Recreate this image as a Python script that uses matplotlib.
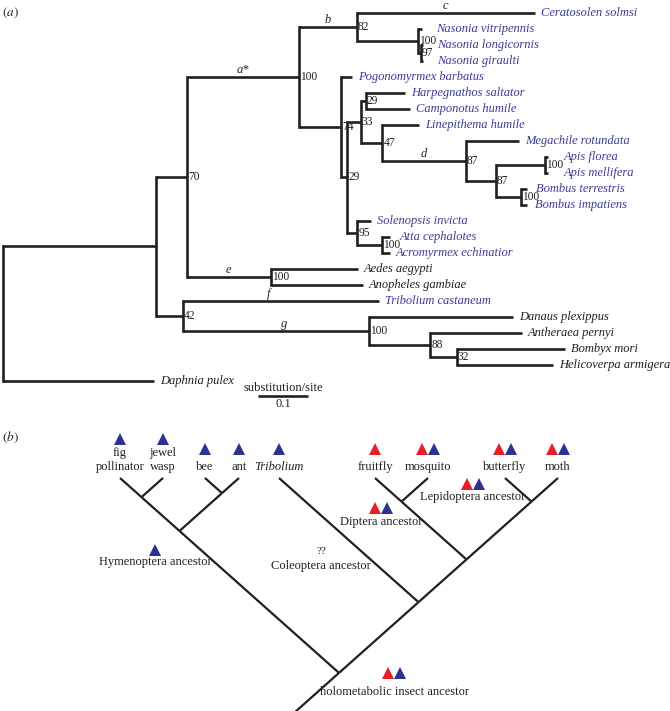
import matplotlib.pyplot as plt

plt.rcParams['font.family'] = ['Liberation Serif', 'DejaVu Serif']
plt.rcParams['mathtext.fontset'] = 'stix'

# ---------------- panel (a): maximum-likelihood tree ----------------
# leaf order, top to bottom
taxa = [
    "Ceratosolen solmsi", "Nasonia vitripennis", "Nasonia longicornis",
    "Nasonia giraulti", "Pogonomyrmex barbatus", "Harpegnathos saltator",
    "Camponotus humile", "Linepithema humile", "Megachile rotundata",
    "Apis florea", "Apis mellifera", "Bombus terrestris", "Bombus impatiens",
    "Solenopsis invicta", "Atta cephalotes", "Acromyrmex echinatior",
    "Aedes aegypti", "Anopheles gambiae", "Tribolium castaneum",
    "Danaus plexippus", "Antheraea pernyi", "Bombyx mori",
    "Helicoverpa armigera", "Daphnia pulex",
]
blue_taxa = taxa[:16] + ["Tribolium castaneum"]

# (parent, child, branch length in substitutions/site)
edges = [
    ("root", "ins", 0.306), ("root", "Daphnia pulex", 0.302),
    ("ins", "hym_dip", 0.062), ("ins", "col_lep", 0.054),
    ("hym_dip", "hym", 0.224), ("hym_dip", "dip", 0.169),
    ("hym", "chalc", 0.116), ("hym", "acul", 0.084),
    ("chalc", "Ceratosolen solmsi", 0.356), ("chalc", "nas", 0.123),
    ("nas", "Nasonia vitripennis", 0.007), ("nas", "nas2", 0.005),
    ("nas2", "Nasonia longicornis", 0.004), ("nas2", "Nasonia giraulti", 0.004),
    ("acul", "Pogonomyrmex barbatus", 0.023), ("acul", "acul2", 0.013),
    ("acul2", "acul3", 0.027), ("acul2", "myrm", 0.020),
    ("acul3", "form", 0.010), ("acul3", "bees0", 0.043),
    ("form", "Harpegnathos saltator", 0.078), ("form", "Camponotus humile", 0.089),
    ("bees0", "Linepithema humile", 0.073), ("bees0", "bees", 0.167),
    ("bees", "Megachile rotundata", 0.107), ("bees", "corb", 0.060),
    ("corb", "apis", 0.098), ("corb", "bomb", 0.050),
    ("apis", "Apis florea", 0.006), ("apis", "Apis mellifera", 0.006),
    ("bomb", "Bombus terrestris", 0.013), ("bomb", "Bombus impatiens", 0.013),
    ("myrm", "Solenopsis invicta", 0.028), ("myrm", "attini", 0.050),
    ("attini", "Atta cephalotes", 0.015), ("attini", "Acromyrmex echinatior", 0.015),
    ("dip", "Aedes aegypti", 0.173), ("dip", "Anopheles gambiae", 0.183),
    ("col_lep", "Tribolium castaneum", 0.393), ("col_lep", "lep", 0.373),
    ("lep", "Danaus plexippus", 0.287), ("lep", "lep2", 0.122),
    ("lep2", "Antheraea pernyi", 0.183), ("lep2", "lep3", 0.053),
    ("lep3", "Bombyx mori", 0.216), ("lep3", "Helicoverpa armigera", 0.192),
]

support = {
    "hym_dip": 70, "hym": 100, "chalc": 82, "nas": 100, "nas2": 97,
    "acul": 74, "acul2": 29, "acul3": 33, "form": 29, "bees0": 47,
    "bees": 87, "corb": 87, "apis": 100, "bomb": 100, "myrm": 95,
    "attini": 100, "dip": 100, "col_lep": 42, "lep": 100, "lep2": 88,
    "lep3": 32,
}

# branch letters, keyed by the child end of the branch
branch_tags = {
    "hym": "a*", "chalc": "b", "Ceratosolen solmsi": "c", "bees": "d",
    "dip": "e", "Tribolium castaneum": "f", "lep": "g",
}

scale_len = 0.1

# ---------------- panel (b): schematic cladogram ----------------
clado_tips = ["fig\npollinator", "jewel\nwasp", "bee", "ant", "Tribolium",
              "fruitfly", "mosquito", "butterfly", "moth"]
clado_tip_x = [120, 163, 205, 239, 279, 375, 428, 505, 558]
tip_red = [0, 0, 0, 0, 0, 1, 1, 1, 1]
tip_blue = [1, 1, 1, 1, 1, 0, 1, 1, 1]
clado_topology = (((0, 1), (2, 3)), (4, ((5, 6), (7, 8))))

anc_names = ["Hymenoptera ancestor", "Coleoptera ancestor", "Diptera ancestor",
             "Lepidoptera ancestor", "holometabolic insect ancestor"]
anc_red = [0, None, 1, 1, 1]
anc_blue = [1, None, 1, 1, 1]

# ---------------- styling / layout ----------------
W, H = 670, 711
BLACK = '#231f20'
BLUE_TXT = '#3b3b9c'
RED = '#e5202a'
BLUE = '#2e3192'
LW = 1.9
PX_PER_SUB = 500.0
ROOT_PX = 2.5
ROW_PX = 16.0
TOP_PX = 12.7
A_H = 420.0

fig = plt.figure(figsize=(W / 100, H / 100), dpi=100)

# ---- panel (a) ----
ax = fig.add_axes([0, 1 - A_H / H, 1, A_H / H])
ax.set_xlim(-ROOT_PX / PX_PER_SUB, (W - ROOT_PX) / PX_PER_SUB)
ax.set_ylim((A_H - TOP_PX) / ROW_PX, -TOP_PX / ROW_PX)
ax.axis('off')

children = {}
blen = {}
for p, c, l in edges:
    children.setdefault(p, []).append(c)
    blen[c] = l

xpos = {"root": 0.0}
ypos = {}


def layout(node):
    for c in children.get(node, []):
        xpos[c] = xpos[node] + blen[c]
        layout(c)
    if node in children:
        ys = [ypos[c] for c in children[node]]
        ypos[node] = (min(ys) + max(ys)) / 2
    else:
        ypos[node] = taxa.index(node)


layout("root")

# vertical connector at every internal node, then one horizontal per branch
for node, kids in children.items():
    ys = [ypos[c] for c in kids]
    ax.plot([xpos[node], xpos[node]], [min(ys), max(ys)], color=BLACK, lw=LW,
            solid_capstyle='projecting')
for p, c, l in edges:
    ax.plot([xpos[p], xpos[c]], [ypos[c], ypos[c]], color=BLACK, lw=LW,
            solid_capstyle='butt')

label_nudge = {"Nasonia vitripennis": 6, "Nasonia longicornis": 6,
               "Nasonia giraulti": 6, "Apis florea": 7, "Apis mellifera": 7,
               "Atta cephalotes": 3, "Bombus terrestris": 2,
               "Bombus impatiens": 1}
for name in taxa:
    col = BLUE_TXT if name in blue_taxa else BLACK
    ax.annotate(name, (xpos[name], ypos[name]),
                xytext=(4.5 + label_nudge.get(name, 0), 0),
                textcoords='offset points', va='center', ha='left',
                fontsize=9, style='italic', color=col)

for node, val in support.items():
    ax.annotate(str(val), (xpos[node], ypos[node]), xytext=(1, 0),
                textcoords='offset points', va='center', ha='left',
                fontsize=8.3, color=BLACK)

parent_of = {c: p for p, c, l in edges}
tag_nudge = {"f": -9, "g": 6}
for node, tag in branch_tags.items():
    xm = (xpos[parent_of[node]] + xpos[node]) / 2
    ax.annotate(tag, (xm, ypos[node]), xytext=(tag_nudge.get(tag, 0), 0.3),
                textcoords='offset points', va='bottom', ha='center',
                fontsize=9, style='italic', color=BLACK)

# scale bar
sb_x0 = (258 - ROOT_PX) / PX_PER_SUB
sb_y = (396 - TOP_PX) / ROW_PX
ax.plot([sb_x0, sb_x0 + scale_len], [sb_y, sb_y], color=BLACK, lw=LW,
        solid_capstyle='butt')
ax.text(sb_x0 + scale_len / 2, sb_y - 0.15, "substitution/site",
        ha='center', va='bottom', fontsize=9, color=BLACK)
ax.text(sb_x0 + scale_len / 2, sb_y + 0.15, "%g" % scale_len,
        ha='center', va='top', fontsize=9, color=BLACK)

fig.text(2 / W, 1 - 13 / H, r"$(a)$", ha='left', va='center', fontsize=9.5,
         color=BLACK)
fig.text(2 / W, 1 - 437 / H, r"$(b)$", ha='left', va='center', fontsize=9.5,
         color=BLACK)

# ---- panel (b) ----
bx = fig.add_axes([0, 0, 1, 1 - A_H / H])
bx.set_xlim(0, W)
bx.set_ylim(H, A_H)
bx.axis('off')

TIP_Y = 478
SLOPE = 0.89


def place(node):
    if isinstance(node, int):
        x = clado_tip_x[node]
        return x, TIP_Y, x, x
    pts = [place(c) for c in node]
    left = min(p[2] for p in pts)
    right = max(p[3] for p in pts)
    x = (left + right) / 2
    y = TIP_Y + (right - left) / 2 * SLOPE
    for cx, cy, _, _ in pts:
        bx.plot([cx, x], [cy, y], color=BLACK, lw=1.6, solid_capstyle='butt')
    return x, y, left, right


rx, ry, _, _ = place(clado_topology)
bx.plot([rx, rx - (H + 5 - ry) / SLOPE], [ry, H + 5], color=BLACK, lw=1.6,
        solid_capstyle='butt')


def triangles(xc, y, red, blue):
    cols = []
    if red:
        cols.append(RED)
    if blue:
        cols.append(BLUE)
    step = 11.5
    x0 = xc - step * (len(cols) - 1) / 2
    for i, c in enumerate(cols):
        bx.plot(x0 + i * step, y, marker='^', ms=8, color=c,
                markeredgewidth=0, linestyle='none')


for i, name in enumerate(clado_tips):
    nl = name.count('\n') + 1
    style = 'italic' if name == "Tribolium" else 'normal'
    bx.text(clado_tip_x[i], 473, name, ha='center', va='bottom', fontsize=9,
            style=style, linespacing=1.25, color=BLACK)
    triangles(clado_tip_x[i], 449 - 10 * (nl - 1), tip_red[i], tip_blue[i])

anc_layout = {
    "Hymenoptera ancestor": (155, 562, 12),
    "Coleoptera ancestor": (321, 566, 15),
    "Diptera ancestor": (381, 522, 14),
    "Lepidoptera ancestor": (473, 497, 13),
    "holometabolic insect ancestor": (394, 692, 19),
}
for i, name in enumerate(anc_names):
    x, y, dy = anc_layout[name]
    bx.text(x, y, name, ha='center', va='center', fontsize=9, color=BLACK)
    if anc_red[i] is None:
        bx.text(x, y - dy, "??", ha='center', va='center', fontsize=8,
                color=BLACK)
    else:
        triangles(x, y - dy, anc_red[i], anc_blue[i])

fig.savefig("out.png", dpi=100)
